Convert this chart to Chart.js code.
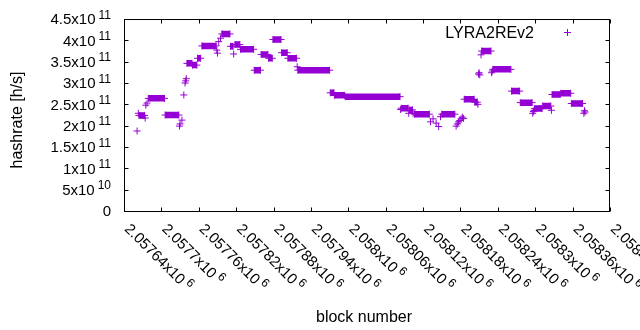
<!DOCTYPE html>
<html><head><meta charset="utf-8">
<script src="https://cdn.jsdelivr.net/npm/chart.js@4/dist/chart.umd.min.js"></script>
<style>html,body{margin:0;padding:0;background:#fff}#wrap{width:640px;height:330px;position:relative}</style>
</head><body><div id="wrap"><canvas id="c"></canvas></div>
<script>
// ---- data ----
const seriesName = "LYRA2REv2";
const xTitle = "block number";
const yTitle = "hashrate [h/s]";
const xMin = 2057640, xMax = 2058420;
const xTicks = [2057640,2057700,2057760,2057820,2057880,2057940,2058000,2058060,2058120,2058180,2058240,2058300,2058360,2058420];
const xTickBase = ["2.05764x10","2.0577x10","2.05776x10","2.05782x10","2.05788x10","2.05794x10","2.058x10","2.05806x10","2.05812x10","2.05818x10","2.05824x10","2.0583x10","2.05836x10","2.05842x10"];
const xTickExp = ["6","6","6","6","6","6","6","6","6","6","6","6","6","6"];
const yMin = 0, yMax = 4.5e11;
const yTicks = [0,5e10,1e11,1.5e11,2e11,2.5e11,3e11,3.5e11,4e11,4.5e11];
const yTickBase = ["0","5x10","1x10","1.5x10","2x10","2.5x10","3x10","3.5x10","4x10","4.5x10"];
const yTickExp = ["","10","11","11","11","11","11","11","11","11"];
// runs of blocks that share one hashrate value (first block, last block, value)
const blockStart = [2057661,2057663,2057664,2057674,2057675,2057677,2057679,2057706,2057729,2057730,2057733,2057736,2057738,2057739,2057740,2057741,2057750,2057758,2057765,2057789,2057790,2057792,2057795,2057797,2057811,2057816,2057818,2057827,2057849,2057860,2057872,2057879,2057893,2057903,2057918,2057919,2057971,2057978,2057995,2058084,2058085,2058097,2058098,2058104,2058106,2058132,2058136,2058141,2058145,2058148,2058150,2058173,2058175,2058177,2058179,2058181,2058183,2058185,2058186,2058203,2058208,2058209,2058210,2058211,2058213,2058214,2058230,2058231,2058232,2058262,2058276,2058296,2058297,2058298,2058299,2058312,2058326,2058327,2058341,2058358,2058378,2058379,2058380];
const blockEnd   = [2057661,2057663,2057673,2057674,2057675,2057677,2057705,2057728,2057729,2057730,2057733,2057736,2057738,2057739,2057740,2057749,2057757,2057763,2057788,2057789,2057790,2057792,2057795,2057810,2057815,2057816,2057826,2057848,2057859,2057871,2057878,2057892,2057902,2057917,2057918,2057970,2057977,2057994,2058083,2058084,2058096,2058097,2058103,2058104,2058130,2058132,2058136,2058141,2058145,2058148,2058171,2058173,2058175,2058177,2058179,2058181,2058183,2058185,2058202,2058207,2058208,2058209,2058210,2058211,2058213,2058229,2058230,2058231,2058261,2058275,2058295,2058296,2058297,2058298,2058311,2058325,2058326,2058340,2058357,2058376,2058378,2058379,2058380];
const hashrate   = [1.875e11,2.29e11,2.24e11,2.18e11,2.48e11,2.53e11,2.64e11,2.25e11,1.99e11,2.04e11,2.13e11,2.72e11,3.0e11,3.05e11,3.1e11,3.46e11,3.42e11,3.58e11,3.87e11,3.77e11,3.70e11,3.97e11,4.05e11,4.15e11,3.86e11,3.68e11,3.9e11,3.79e11,3.3e11,3.67e11,3.58e11,4.02e11,3.71e11,3.58e11,3.38e11,3.3e11,2.77e11,2.71e11,2.68e11,2.38e11,2.41e11,2.29e11,2.37e11,2.29e11,2.27e11,2.09e11,2.16e11,2.06e11,1.98e11,2.21e11,2.27e11,1.99e11,2.04e11,2.09e11,2.12e11,2.16e11,2.2e11,2.17e11,2.62e11,2.55e11,2.5e11,3.21e11,3.24e11,3.19e11,3.66e11,3.75e11,3.24e11,3.28e11,3.32e11,2.81e11,2.54e11,2.29e11,2.33e11,2.36e11,2.4e11,2.46e11,2.36e11,2.73e11,2.76e11,2.52e11,2.29e11,2.35e11,2.32e11];

// ---- build library data: each run is drawn from its first to last block ----
const points = [];
for (let i = 0; i < blockStart.length; i++) {
  points.push({x: blockStart[i], y: hashrate[i]});
  if (blockEnd[i] !== blockStart[i]) points.push({x: blockEnd[i], y: hashrate[i]});
  points.push({x: blockEnd[i], y: null});
}

const COLOR = '#9400D3';
const FONT = '"Liberation Sans", Arial, sans-serif';
const FS = 15, FSE = 12, FT = 16;

function drawExpText(ctx, base, exp, x, y, align) {
  ctx.font = FS + 'px ' + FONT;
  const wb = ctx.measureText(base).width;
  ctx.font = FSE + 'px ' + FONT;
  const we = exp ? ctx.measureText(exp).width : 0;
  const gap = exp ? 3 : 0;
  const total = wb + gap + we;
  let x0 = align === 'right' ? x - total : x;
  ctx.textAlign = 'left';
  ctx.textBaseline = 'alphabetic';
  ctx.font = FS + 'px ' + FONT;
  ctx.fillText(base, x0, y + 5.2);
  if (exp) {
    ctx.font = FSE + 'px ' + FONT;
    ctx.fillText(exp, x0 + wb + gap, y - 0.5);
  }
}

const gnuplotFrame = {
  id: 'gnuplotFrame',
  afterDraw(chart) {
    const {ctx, chartArea: a, scales: {x, y}} = chart;
    ctx.save();
    ctx.strokeStyle = '#000';
    ctx.lineWidth = 1;
    const L = Math.round(a.left) + 0.5, R = Math.round(a.right) - 0.5;
    const T = Math.round(a.top) + 0.5, B = Math.round(a.bottom) + 0.5;
    ctx.strokeRect(L, T, R - L, B - T);
    ctx.beginPath();
    yTicks.forEach(v => {
      const py = Math.round(y.getPixelForValue(v)) + 0.5;
      ctx.moveTo(L, py); ctx.lineTo(L + 4, py);
      ctx.moveTo(R, py); ctx.lineTo(R - 4, py);
    });
    xTicks.forEach(v => {
      const px = Math.round(x.getPixelForValue(v)) + 0.5;
      ctx.moveTo(px, B); ctx.lineTo(px, B - 4);
      ctx.moveTo(px, T); ctx.lineTo(px, T + 4);
    });
    ctx.stroke();

    ctx.fillStyle = '#000';
    yTicks.forEach((v, i) => {
      drawExpText(ctx, yTickBase[i], yTickExp[i], 111, y.getPixelForValue(v), 'right');
    });
    xTicks.forEach((v, i) => {
      const px = x.getPixelForValue(v);
      ctx.save();
      ctx.translate(px + 3.5, 226);
      ctx.rotate(Math.PI / 4);
      drawExpText(ctx, xTickBase[i], xTickExp[i], 0, 0, 'left');
      ctx.restore();
    });
    ctx.font = FT + 'px ' + FONT;
    ctx.textAlign = 'center';
    ctx.textBaseline = 'alphabetic';
    ctx.fillText(xTitle, 364, 322);
    ctx.save();
    ctx.translate(22, 120);
    ctx.rotate(-Math.PI / 2);
    ctx.fillText(yTitle, 0, 0);
    ctx.restore();
    ctx.textAlign = 'right';
    ctx.fillText(chart.data.datasets[0].label, 534, 37.5);
    ctx.strokeStyle = COLOR;
    ctx.beginPath();
    ctx.moveTo(564, 32.5); ctx.lineTo(571, 32.5);
    ctx.moveTo(567.5, 29); ctx.lineTo(567.5, 36);
    ctx.stroke();
    ctx.restore();
  }
};

new Chart(document.getElementById('c'), {
  type: 'line',
  data: {
    datasets: [{
      label: seriesName,
      data: points,
      borderColor: COLOR,
      backgroundColor: COLOR,
      borderWidth: 6.5,
      borderCapStyle: 'butt',
      spanGaps: false,
      tension: 0,
      pointStyle: 'cross',
      pointRadius: 3.5,
      pointHoverRadius: 3.5,
      pointBorderWidth: 1,
      pointBorderColor: COLOR
    }]
  },
  options: {
    responsive: true,
    maintainAspectRatio: false,
    animation: false,
    events: [],
    layout: {padding: {top: 19, right: 30, left: 0, bottom: 0}},
    plugins: {legend: {display: false}, tooltip: {enabled: false}},
    scales: {
      x: {
        type: 'linear', min: xMin, max: xMax,
        ticks: {display: false}, grid: {display: false}, border: {display: false},
        afterFit(s) { s.height = 119; }
      },
      y: {
        type: 'linear', min: yMin, max: yMax,
        ticks: {display: false}, grid: {display: false}, border: {display: false},
        afterFit(s) { s.width = 124; }
      }
    }
  },
  plugins: [gnuplotFrame]
});
</script>
</body></html>
